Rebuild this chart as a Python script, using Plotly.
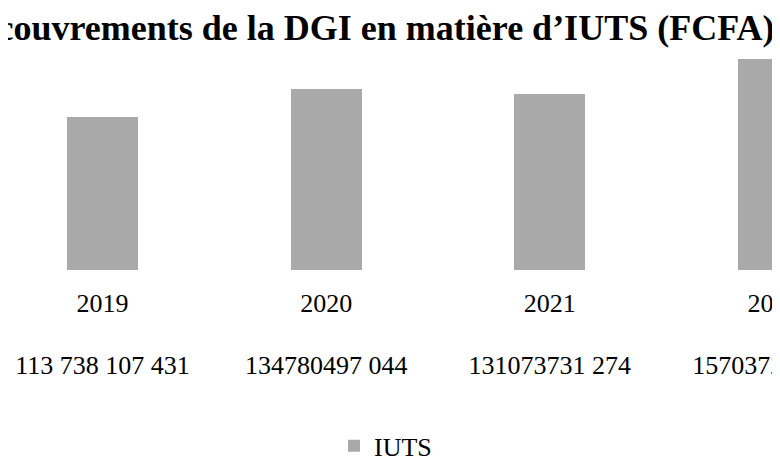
import plotly.graph_objects as go

years = ["2019", "2020", "2021", "2022"]
values = [113738107431, 134780497044, 131073731274, 157037200000]
value_labels = ["113 738 107 431", "134780497 044", "131073731 274", "157037200 000"]
series_name = "IUTS"
title = "Recouvrements de la DGI en matière d’IUTS (FCFA)"

FONT = "Liberation Serif, Times New Roman, serif"
BAR = "#A9A9A9"

fig = go.Figure()
fig.add_trace(go.Bar(
    x=years, y=values, name=series_name, marker=dict(color=BAR, line=dict(width=0)),
    width=0.317, xaxis="x", yaxis="y",
))
# row of values shown on a second bottom axis
fig.add_trace(go.Scatter(
    x=years, y=values, mode="markers", marker=dict(opacity=0), showlegend=False,
    hoverinfo="skip", xaxis="x2", yaxis="y",
))

xr = [-0.4225, 3.0648]
fig.update_layout(
    width=780, height=470,
    margin=dict(l=0, r=0, t=32, b=208),
    paper_bgcolor="white", plot_bgcolor="white",
    font=dict(family=FONT, color="black", size=26),
    title=dict(text="<b>" + title + "</b>", x=357 / 780, xanchor="center",
               y=1 - 19 / 470, yanchor="middle",
               font=dict(family=FONT, size=36, color="black")),
    showlegend=True,
    legend=dict(orientation="h", x=326 / 780, xanchor="left", y=-0.765, yanchor="middle",
                font=dict(family=FONT, size=26, color="black"), bgcolor="rgba(0,0,0,0)"),
    xaxis=dict(type="category", categoryorder="array", categoryarray=years, range=xr,
               showgrid=False, zeroline=False, showline=False, ticks="",
               tickfont=dict(family=FONT, size=26, color="black"),
               ticklabelstandoff=15, automargin=False, fixedrange=True),
    xaxis2=dict(type="category", categoryorder="array", categoryarray=years, range=xr,
                overlaying="x", anchor="y", side="bottom",
                tickmode="array", tickvals=years, ticktext=value_labels,
                tickfont=dict(family=FONT, size=26, color="black"),
                showgrid=False, zeroline=False, showline=False, ticks="",
                ticklabelstandoff=77, automargin=False, fixedrange=True),
    yaxis=dict(range=[0, 171e9], visible=False, showgrid=False, zeroline=False,
               fixedrange=True),
    bargap=0,
)

fig.write_html("out.html")
